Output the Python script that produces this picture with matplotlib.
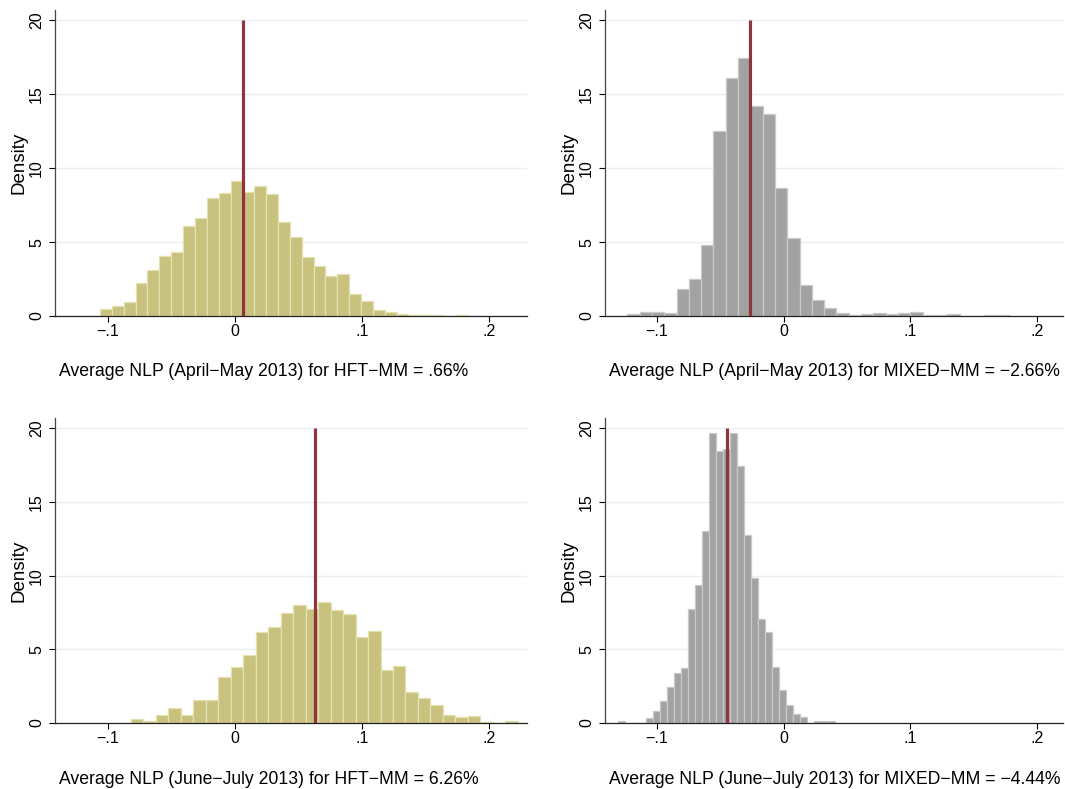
import numpy as np
import matplotlib
matplotlib.use("Agg")
import matplotlib.pyplot as plt

plt.rcParams["font.family"] = ["Liberation Sans", "DejaVu Sans"]
plt.rcParams["font.size"] = 11

# ---- histogram data (density per bin, 31 bins each) ----
hft_am_density = [0.50, 0.70, 0.97, 2.23, 3.13, 4.08, 4.30, 6.06, 6.60, 7.95,
                  8.31, 9.12, 8.38, 8.78, 8.24, 6.33, 5.32, 4.01, 3.40, 2.70,
                  2.86, 1.51, 1.04, 0.43, 0.29, 0.16, 0.09, 0.09, 0.09, 0.0,
                  0.09]
mixed_am_density = [0.11, 0.25, 0.25, 0.23, 1.82, 2.48, 4.82, 12.50, 16.13, 17.43,
                    14.23, 13.65, 8.63, 5.27, 2.07, 1.11, 0.52, 0.20, 0.07, 0.14,
                    0.20, 0.14, 0.20, 0.27, 0.07, 0.07, 0.14, 0.0, 0.0, 0.07,
                    0.07]
hft_jj_density = [0.27, 0.14, 0.54, 1.04, 0.54, 1.55, 1.55, 3.11, 3.83, 4.64,
                  6.17, 6.49, 7.45, 8.00, 7.77, 8.24, 7.70, 7.39, 5.83, 6.24,
                  3.58, 3.90, 2.09, 1.69, 1.22, 0.54, 0.43, 0.50, 0.07, 0.0,
                  0.14]
mixed_jj_density = [0.11, 0.0, 0.0, 0.0, 0.34, 0.81, 1.51, 2.45, 3.40, 3.76,
                    7.73, 9.39, 13.04, 19.66, 18.49, 18.60, 19.66, 17.41, 12.79, 9.84,
                    7.09, 6.17, 3.81, 2.27, 1.22, 0.61, 0.38, 0.0, 0.11, 0.11,
                    0.11]

# lower edge of the first bin and bin width for each histogram
bin_start = [-0.1061, -0.1234, -0.0819, -0.1305]
bin_width = [0.00933, 0.00971, 0.00982, 0.00552]

# average NLP per group and period
mean_nlp = [0.0066, -0.0266, 0.0626, -0.0444]
periods = ["April\u2212May 2013", "April\u2212May 2013",
           "June\u2212July 2013", "June\u2212July 2013"]
groups = ["HFT\u2212MM", "MIXED\u2212MM", "HFT\u2212MM", "MIXED\u2212MM"]

xtick_vals = [-0.1, 0, 0.1, 0.2]
xtick_labels = ["\u2212.1", "0", ".1", ".2"]
ytick_vals = [0, 5, 10, 15, 20]

KHAKI = "#C8C27E"
KHAKI_EDGE = "#E6E1B0"
GRAY = "#A2A2A2"
GRAY_EDGE = "#C9C9C9"
CRANBERRY = "#90353B"
GRID = "#E9F0F1"


def stata_pct(value):
    # format like Stata: drop leading zero, use a real minus sign
    s = f"{abs(value) * 100:.2f}"
    if s.startswith("0"):
        s = s[1:]
    return ("\u2212" if value < 0 else "") + s + "%"


W, H = 1065, 789
fig = plt.figure(figsize=(W / 100, H / 100), dpi=100)

# axes boxes in pixels: left, top, right, bottom, xlim
boxes = [
    (55, 10, 527, 316, (-0.1415, 0.2297)),
    (605, 10, 1063, 316, (-0.1410, 0.2204)),
    (55, 418, 527, 723, (-0.1415, 0.2297)),
    (605, 418, 1063, 723, (-0.1410, 0.2204)),
]
densities = [hft_am_density, mixed_am_density, hft_jj_density, mixed_jj_density]
fills = [KHAKI, GRAY, KHAKI, GRAY]
edges = [KHAKI_EDGE, GRAY_EDGE, KHAKI_EDGE, GRAY_EDGE]
caption_y = [372, 372, 779, 779]

for i, (l, t, r, b, xlim) in enumerate(boxes):
    ax = fig.add_axes([l / W, 1 - b / H, (r - l) / W, (b - t) / H])
    dens = np.array(densities[i])
    lefts = bin_start[i] + bin_width[i] * np.arange(len(dens))
    ax.bar(lefts, dens, width=bin_width[i], align="edge",
           color=fills[i], edgecolor=edges[i], linewidth=0.9, zorder=2)
    ax.vlines(mean_nlp[i], 0, 20, color=CRANBERRY, linewidth=2.3, zorder=3)

    ax.set_xlim(*xlim)
    ax.set_ylim(0, 20.7)
    ax.set_xticks(xtick_vals)
    ax.set_xticklabels(xtick_labels)
    ax.set_yticks(ytick_vals)
    ax.yaxis.grid(True, color=GRID, linewidth=1.0, zorder=0)
    ax.set_axisbelow(True)

    for side in ("top", "right"):
        ax.spines[side].set_visible(False)
    ax.spines["left"].set_color("#444444")
    ax.spines["bottom"].set_color("#222222")
    ax.spines["left"].set_linewidth(0.9)
    ax.spines["bottom"].set_linewidth(0.9)

    ax.tick_params(axis="x", length=4, width=0.8, pad=2, labelsize=11.5)
    ax.tick_params(axis="y", length=4, width=0.8, pad=4, labelsize=11.5,
                   labelrotation=90)
    for lab in ax.get_yticklabels():
        lab.set_va("center")
    ax.set_ylabel("Density", fontsize=13.5, labelpad=1)

    fig.text((l + 4) / W, 1 - caption_y[i] / H,
             f"Average NLP ({periods[i]}) for {groups[i]} = {stata_pct(mean_nlp[i])}",
             ha="left", va="center", fontsize=12.7)

fig.savefig("out.png", dpi=100, facecolor="white")
